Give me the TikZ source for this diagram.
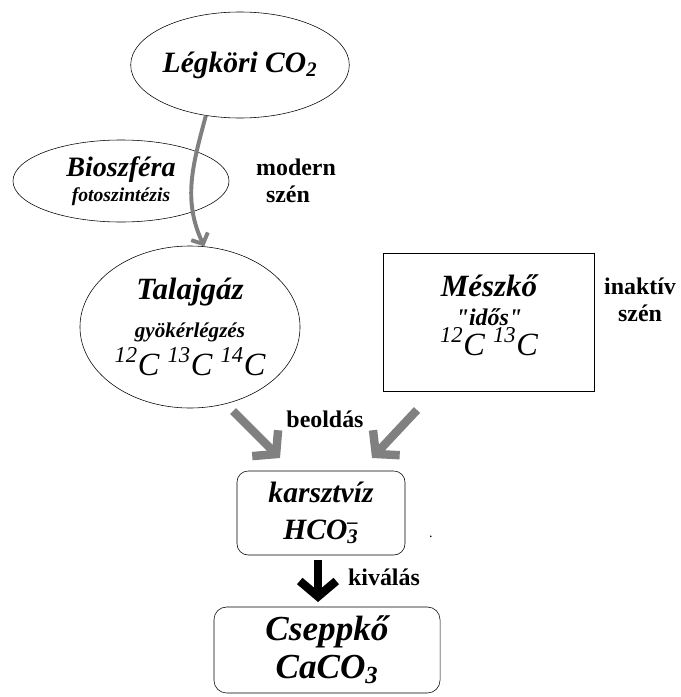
\documentclass[tikz,border=0pt]{standalone}
\usepackage{fontspec}
\setmainfont{Liberation Serif}
\usetikzlibrary{shapes.geometric, arrows.meta}

\definecolor{flowgray}{RGB}{128,128,128}
\tikzset{
	blob/.style={ellipse, draw, thin, inner sep=0pt, align=center, font=\bfseries\itshape},
	pool/.style={rectangle, draw, thin, inner sep=0pt, align=center, font=\bfseries\itshape},
	note/.style={align=center, font=\bfseries\fontsize{17}{19}\selectfont},
	flow/.style={->, >={Straight Barb[length=11pt, width=26pt]}, line width=6pt, draw=flowgray},
}

\begin{document}
\begin{tikzpicture}[x=0.025cm, y=-0.025cm]
	\useasboundingbox (0, 0) rectangle (680, 697);
	% sources
	\node[blob, minimum width=5.15cm, minimum height=2.65cm, font=\bfseries\itshape\fontsize{21}{24}\selectfont] (leg) at (240, 65) {Légköri CO\textsubscript{2}};
	\node[blob, minimum width=5.4cm, minimum height=2.05cm, font=\bfseries\itshape\fontsize{20}{18}\selectfont] (bio) at (121, 181) {Bioszféra\\{\fontsize{14}{18}\selectfont fotoszintézis}};
	\node[note, align=left] (modern) at (296, 181) {modern\\\hspace{7pt}szén};
	\node[blob, minimum width=5.5cm, minimum height=4.05cm, font=\bfseries\itshape\fontsize{22}{27}\selectfont] (tal) at (190, 327) {Talajgáz\\{\fontsize{15}{27}\selectfont gyökérlégzés}\\{\mdseries\fontsize{23}{27}\selectfont \textsuperscript{12}C \textsuperscript{13}C \textsuperscript{14}C}};
	\node[pool, minimum width=5.275cm, minimum height=3.45cm] (mesz) at (489, 322) {};
	\node[align=center, font=\bfseries\itshape\fontsize{22}{21}\selectfont] (meszt) at (489, 315) {Mészkő\\{\fontsize{17}{21}\selectfont \textquotedbl idős\textquotedbl}\\{\mdseries\fontsize{23}{21}\selectfont \textsuperscript{12}C \textsuperscript{13}C}};
	\node[note] (inakt) at (640, 300) {inaktív\\szén};
	% karst water and dripstone
	\node[pool, rounded corners=8pt, minimum width=4.2cm, minimum height=2.1cm, font=\bfseries\itshape\fontsize{21}{26}\selectfont] (kar) at (321, 513) {karsztvíz\\HCO\rlap{\textsuperscript{--}}\textsubscript{3}};
	\node[font=\fontsize{10}{12}\selectfont] (dot) at (431, 537) {.};
	\node[pool, rounded corners=9pt, minimum width=5.65cm, minimum height=2.15cm, font=\bfseries\itshape\fontsize{25}{27}\selectfont] (csep) at (327, 650) {Cseppkő\\CaCO\textsubscript{3}};
	\node[note] (beold) at (325, 419) {beoldás};
	\node[note] (kival) at (384, 577) {kiválás};
	% arrows
	\coordinate (inL) at (233, 411);
	\coordinate (outL) at (280, 458);
	\coordinate (inR) at (417, 410);
	\coordinate (outR) at (372, 458);
	\coordinate (inK) at (318, 560);
	\coordinate (outK) at (318, 602);
	\draw[->, >={Straight Barb[length=6pt, width=13pt]}, line width=2.8pt, draw=flowgray] (leg.236) to[out=255, in=115] (tal.80);
	\draw[flow] (inL) -- (outL);
	\draw[flow] (inR) -- (outR);
	\draw[flow, draw=black] (inK) -- (outK);
\end{tikzpicture}
\end{document}
